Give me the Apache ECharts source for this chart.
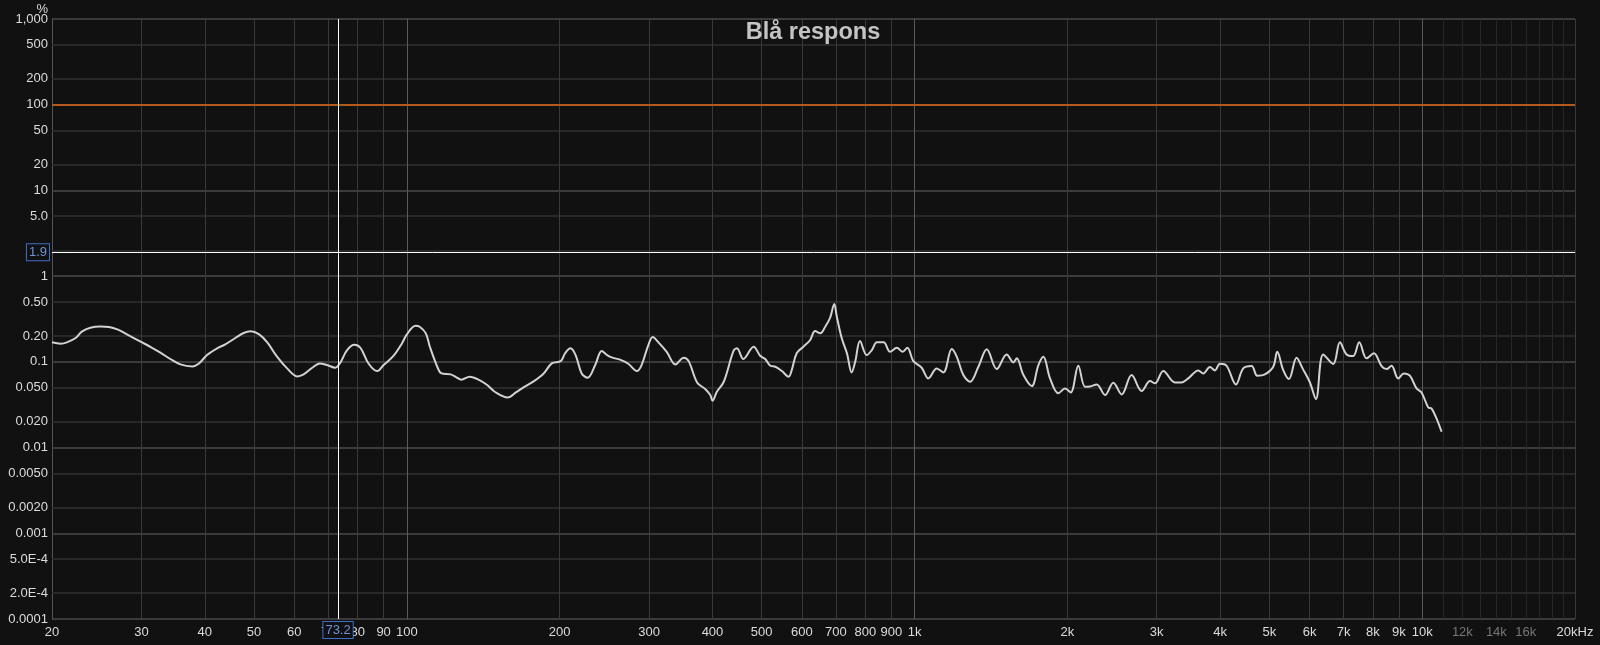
<!DOCTYPE html>
<html>
<head>
<meta charset="utf-8">
<title>Blå respons</title>
<script src="https://cdn.jsdelivr.net/npm/echarts@6/dist/echarts.min.js"></script>
<style>
  html, body { margin: 0; padding: 0; background: #111111; }
  #chart { width: 1600px; height: 645px; }
</style>
</head>
<body>
<div id="chart"></div>
<script>
// ---- data ----------------------------------------------------------------
const chartTitle = 'Blå respons';
const unitLabel = '%';

// measured distortion (%) against frequency (Hz)
const freqHz = [
  20, 20.8, 21.4, 22.3, 22.9, 23.8, 24.9, 25.9, 26.9, 28.1,
  29.9, 31.3, 32.7, 34.2, 35.8, 37.8, 38.9, 40.4, 42.3, 43.9,
  46.0, 47.7, 49.2, 51.1, 53.1, 55.5, 58.1, 60.8, 62.6, 65.1,
  67.4, 69.6, 72.3, 74.0, 76.2, 78.8, 81.0, 84.1, 87.4, 90.0,
  94.2, 97.8, 100, 104, 106, 109, 111, 115, 117, 122,
  125, 128, 133, 139, 144, 149, 158, 164, 170, 178,
  186, 193, 201, 205, 210, 215, 221, 227, 235, 242,
  248, 254, 263, 273, 284, 290, 299, 305, 313, 325,
  338, 351, 359, 373, 387, 396, 400, 408, 421, 440,
  447, 460, 482, 497, 508, 520, 532, 548, 565, 573,
  586, 604, 623, 637, 652, 667, 682, 695, 703, 719,
  736, 752, 764, 781, 805, 824, 843, 869, 895, 923,
  948, 968, 995, 1033, 1065, 1106, 1140, 1184, 1211, 1248,
  1287, 1336, 1388, 1452, 1519, 1566, 1590, 1639, 1702, 1754,
  1794, 1849, 1920, 1980, 2031, 2102, 2167, 2217, 2285, 2373,
  2464, 2559, 2677, 2802, 2910, 2976, 3091, 3258, 3358, 3461,
  3622, 3705, 3818, 3906, 3996, 4118, 4297, 4442, 4613, 4733,
  4900, 5089, 5182, 5325, 5464, 5657, 5813, 6009, 6175, 6384,
  6680, 6885, 7096, 7314, 7516, 7770, 8033, 8317, 8507, 8702,
  8969, 9203, 9456, 9746, 9971, 10280, 10430, 10670, 10920
];
const distortionPct = [
  0.169, 0.163, 0.169, 0.191, 0.225, 0.250, 0.259, 0.255, 0.239, 0.209,
  0.172, 0.149, 0.128, 0.108, 0.0934, 0.0885, 0.0951, 0.120, 0.144, 0.160,
  0.191, 0.217, 0.227, 0.211, 0.169, 0.115, 0.0839, 0.0677, 0.0714, 0.0854,
  0.0960, 0.0918, 0.0854, 0.0986, 0.136, 0.158, 0.146, 0.0951, 0.0781, 0.0918,
  0.118, 0.164, 0.209, 0.264, 0.257, 0.215, 0.150, 0.0854, 0.0733, 0.0714,
  0.0665, 0.0619, 0.0671, 0.0613, 0.0536, 0.0448, 0.0385, 0.0440, 0.0508, 0.0597,
  0.0733, 0.0960, 0.102, 0.126, 0.144, 0.120, 0.0733, 0.0653, 0.0918, 0.134,
  0.120, 0.112, 0.106, 0.0951, 0.0781, 0.0918, 0.157, 0.195, 0.169, 0.131,
  0.0934, 0.112, 0.102, 0.0576, 0.0482, 0.0410, 0.0352, 0.0448, 0.0586, 0.134,
  0.144, 0.108, 0.150, 0.117, 0.108, 0.0901, 0.0877, 0.0781, 0.0671, 0.0802,
  0.126, 0.150, 0.180, 0.229, 0.215, 0.257, 0.327, 0.473, 0.336, 0.188,
  0.126, 0.0753, 0.100, 0.175, 0.120, 0.137, 0.169, 0.169, 0.131, 0.146,
  0.131, 0.146, 0.102, 0.0854, 0.0641, 0.0839, 0.0753, 0.141, 0.115, 0.0701,
  0.0586, 0.0877, 0.140, 0.0824, 0.122, 0.0986, 0.110, 0.0701, 0.0522, 0.0918,
  0.115, 0.0641, 0.0429, 0.0490, 0.0440, 0.0901, 0.0513, 0.0517, 0.0546, 0.0410,
  0.0571, 0.0417, 0.0701, 0.0456, 0.0597, 0.0561, 0.0781, 0.0576, 0.0576, 0.0641,
  0.0795, 0.0733, 0.0870, 0.0795, 0.0951, 0.0901, 0.0546, 0.0839, 0.0893, 0.0689,
  0.0714, 0.0877, 0.131, 0.0802, 0.0630, 0.112, 0.0839, 0.0576, 0.0368, 0.122,
  0.0943, 0.169, 0.122, 0.117, 0.169, 0.110, 0.126, 0.0893, 0.0824, 0.0901,
  0.0641, 0.0733, 0.0689, 0.0490, 0.0440, 0.0294, 0.0286, 0.0219, 0.0153
];

// axis ranges
const freqMin = 20, freqMax = 20000;
const pctMin = 0.0001, pctMax = 1000;

// frequency tick labels
const xTickValues = [20, 30, 40, 50, 60, 70, 80, 90, 100, 200, 300, 400, 500, 600, 700, 800, 900,
  1000, 2000, 3000, 4000, 5000, 6000, 7000, 8000, 9000, 10000, 12000, 14000, 16000, 20000];
const xTickLabels = ['20', '30', '40', '50', '60', '70', '80', '90', '100', '200', '300', '400', '500', '600', '700', '800', '900',
  '1k', '2k', '3k', '4k', '5k', '6k', '7k', '8k', '9k', '10k', '12k', '14k', '16k', '20kHz'];
const xDimLabels = ['12k', '14k', '16k'];

// percentage tick labels
const yTickValues = [1000, 500, 200, 100, 50, 20, 10, 5, 2, 1, 0.5, 0.2, 0.1, 0.05, 0.02, 0.01,
  0.005, 0.002, 0.001, 0.0005, 0.0002, 0.0001];
const yTickLabels = ['1,000', '500', '200', '100', '50', '20', '10', '5.0', '2.0', '1', '0.50', '0.20', '0.1', '0.050', '0.020', '0.01',
  '0.0050', '0.0020', '0.001', '5.0E-4', '2.0E-4', '0.0001'];

// grid lines
const xDecadeLines = [100, 1000, 10000];
const xStepLines = [30, 40, 50, 60, 70, 80, 90, 200, 300, 400, 500, 600, 700, 800, 900,
  2000, 3000, 4000, 5000, 6000, 7000, 8000, 9000, 20000];
const xFineLines = [11000, 12000, 13000, 14000, 15000, 16000, 17000, 18000, 19000];
const yDecadeLines = [1000, 100, 10, 1, 0.1, 0.01, 0.001, 0.0001];
const yStepLines = [500, 200, 50, 20, 5, 2, 0.5, 0.2, 0.05, 0.02, 0.005, 0.002, 0.0005, 0.0002];

// reference level and cursor readout
const referenceLevelPct = 100;
const cursorFreqHz = 73.2;
const cursorPct = 1.9;

// ---- helpers -------------------------------------------------------------
function labelFor(values, labels, v) {
  let best = 0, bestErr = Infinity;
  for (let i = 0; i < values.length; i++) {
    const err = Math.abs(Math.log10(values[i]) - Math.log10(v));
    if (err < bestErr) { bestErr = err; best = i; }
  }
  return labels[best];
}

function gridLineSeries(name, axisKey, values, color, width) {
  return {
    name: name,
    type: 'line',
    data: [],
    silent: true,
    z: 1,
    markLine: {
      silent: true,
      symbol: ['none', 'none'],
      precision: 10,
      animation: false,
      z: 1,
      label: { show: false },
      lineStyle: { color: color, width: width, type: 'solid' },
      emphasis: { disabled: true },
      data: values.map(v => ({ [axisKey]: v }))
    }
  };
}

const textFont = 'Liberation Sans, Arial, sans-serif';

const cursorLabel = {
  show: true,
  position: 'start',
  color: '#6f93d6',
  fontFamily: textFont,
  fontSize: 13,
  backgroundColor: '#111111',
  borderColor: '#3f6fc4',
  borderWidth: 1,
  padding: [2, 2, 1, 2]
};

// ---- chart ---------------------------------------------------------------
const chart = echarts.init(document.getElementById('chart'), null, { renderer: 'canvas' });

chart.setOption({
  backgroundColor: '#111111',
  animation: false,
  title: {
    text: chartTitle,
    left: 813,
    textAlign: 'center',
    top: 21,
    padding: 0,
    textStyle: { color: '#c4c4c4', fontSize: 23.5, fontWeight: 'bold', fontFamily: textFont }
  },
  grid: { left: 52, right: 25, top: 19, bottom: 26, containLabel: false },
  xAxis: {
    type: 'log',
    logBase: 10,
    min: freqMin,
    max: freqMax,
    axisLine: { show: false },
    axisTick: { show: false },
    splitLine: { show: false },
    axisLabel: {
      customValues: xTickValues,
      margin: 7,
      fontFamily: textFont,
      fontSize: 13,
      color: '#dcdcdc',
      showMinLabel: true,
      showMaxLabel: true,
      hideOverlap: false,
      formatter: v => {
        const s = labelFor(xTickValues, xTickLabels, v);
        return xDimLabels.includes(s) ? '{dim|' + s + '}' : s;
      },
      rich: { dim: { color: '#777777', fontSize: 13, fontFamily: textFont } }
    }
  },
  yAxis: {
    type: 'log',
    logBase: 10,
    min: pctMin,
    max: pctMax,
    name: unitLabel,
    nameLocation: 'end',
    nameGap: 3,
    nameMoveOverlap: false,
    nameTextStyle: { color: '#dcdcdc', fontSize: 13, fontFamily: textFont, align: 'right', padding: [0, 4, 0, 0] },
    axisLine: { show: true, lineStyle: { color: '#555555', width: 1 } },
    axisTick: { show: false },
    splitLine: { show: false },
    axisLabel: {
      customValues: yTickValues,
      margin: 4,
      fontFamily: textFont,
      fontSize: 13,
      color: '#dcdcdc',
      showMinLabel: true,
      showMaxLabel: true,
      hideOverlap: false,
      formatter: v => labelFor(yTickValues, yTickLabels, v)
    }
  },
  series: [
    gridLineSeries('yStep', 'yAxis', yStepLines, '#303030', 1.5),
    gridLineSeries('yDecade', 'yAxis', yDecadeLines, '#4a4a4a', 1.5),
    gridLineSeries('xFine', 'xAxis', xFineLines, '#262626', 1),
    gridLineSeries('xStep', 'xAxis', xStepLines, '#3a3a3a', 1),
    gridLineSeries('xDecade', 'xAxis', xDecadeLines, '#5a5a5a', 1),
    {
      name: 'reference',
      type: 'line',
      data: [],
      silent: true,
      z: 2,
      markLine: {
        silent: true,
        symbol: ['none', 'none'],
        precision: 10,
        z: 2,
        label: { show: false },
        lineStyle: { color: '#b35a1c', width: 2, type: 'solid' },
        data: [{ yAxis: referenceLevelPct }]
      }
    },
    {
      name: chartTitle,
      type: 'line',
      data: freqHz.map((f, i) => [f, distortionPct[i]]),
      showSymbol: false,
      smooth: 0.35,
      z: 3,
      lineStyle: { color: '#d2d2d2', width: 2 }
    },
    {
      name: 'cursor',
      type: 'line',
      data: [],
      silent: true,
      z: 5,
      markLine: {
        silent: true,
        symbol: ['none', 'none'],
        precision: 10,
        z: 5,
        lineStyle: { color: '#ffffff', width: 1, type: 'solid' },
        data: [
          { xAxis: cursorFreqHz, label: Object.assign({}, cursorLabel, { formatter: String(cursorFreqHz), distance: 3 }) },
          { yAxis: cursorPct, label: Object.assign({}, cursorLabel, { formatter: String(cursorPct), distance: 3 }) }
        ]
      }
    }
  ]
});
</script>
</body>
</html>
